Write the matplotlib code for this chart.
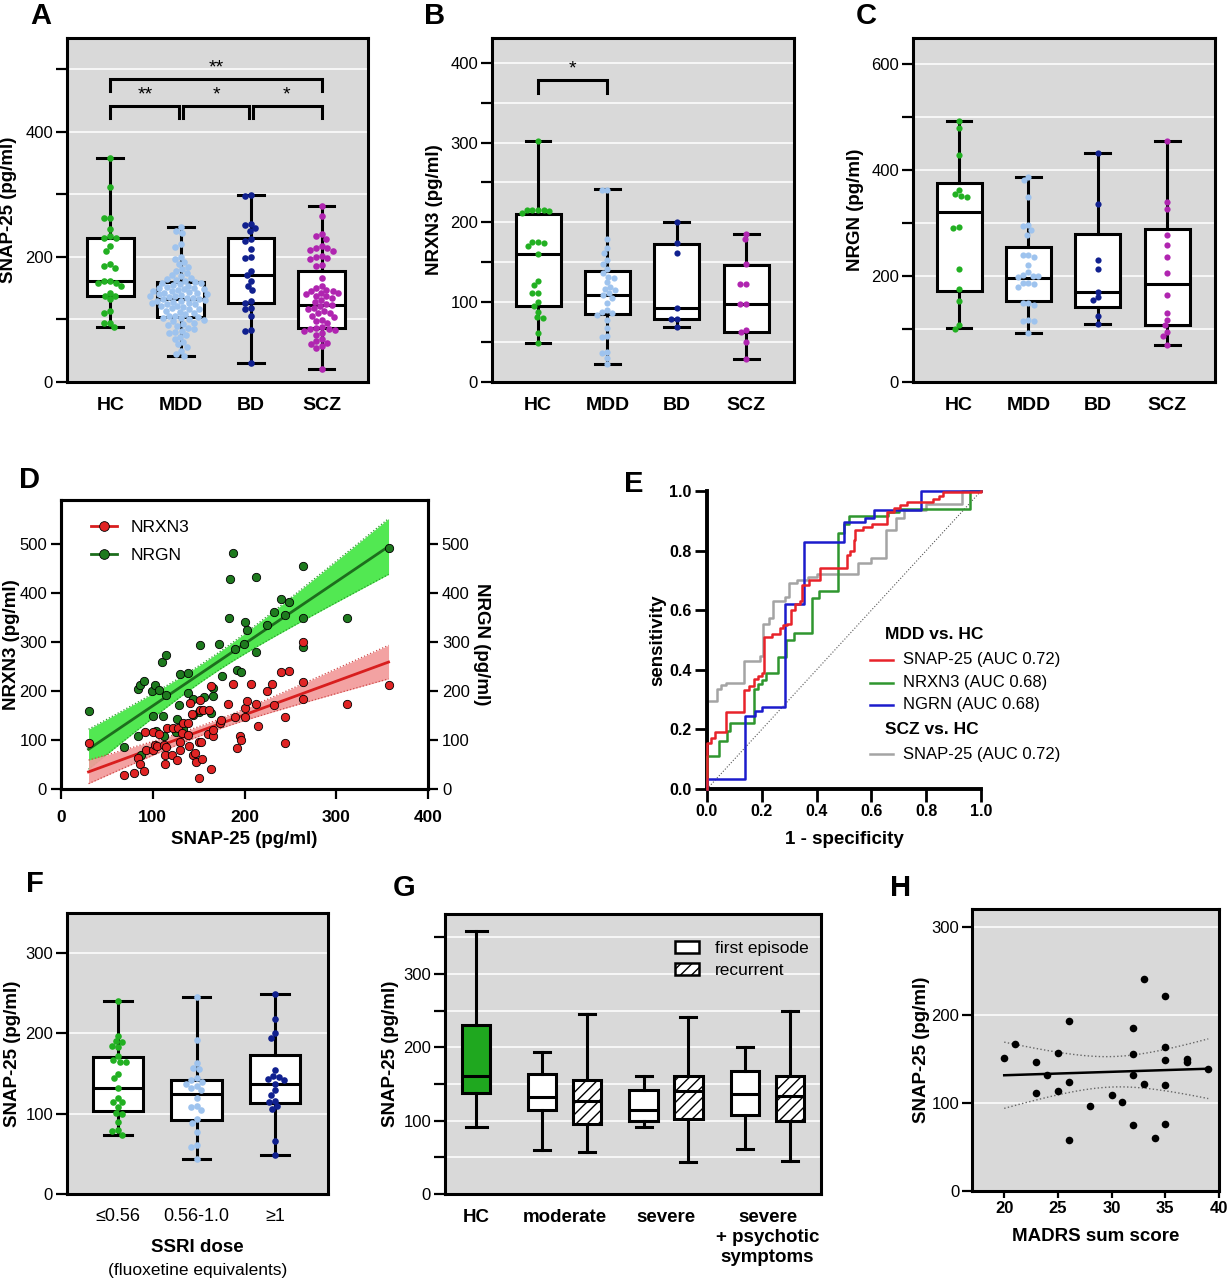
import numpy as np
import matplotlib
matplotlib.use("Agg")
import matplotlib.pyplot as plt
from matplotlib.lines import Line2D
from matplotlib.patches import Patch

plt.rcParams['font.family'] = ['Liberation Sans', 'DejaVu Sans']
plt.rcParams['hatch.linewidth'] = 1.0

# ======================= DATA =======================
groups = ["HC", "MDD", "BD", "SCZ"]
grp_colors = ["#22b022", "#9ec3ee", "#10208f", "#b025b0"]

# --- A: SNAP-25 by group
snap_hc = [358, 311, 263, 263, 244, 233, 231, 231, 217, 210, 188, 185, 182, 161, 161,
           159, 158, 153, 142, 137, 137, 132, 113, 110, 95, 94, 88]
snap_mdd = [248, 242, 238, 220, 216, 200, 196, 192, 188, 184, 180, 177, 174, 171, 169,
            167, 165, 163, 162, 160, 159, 158, 156, 155, 154, 152, 151, 150, 149, 148,
            147, 146, 145, 144, 143, 142, 141, 140, 139, 138, 137, 136, 135, 134, 133,
            132, 131, 130, 129, 128, 127, 126, 125, 124, 122, 121, 120, 118, 117, 116,
            114, 112, 110, 108, 106, 105, 104, 103, 102, 100, 99, 97, 95, 93, 91, 89,
            87, 85, 82, 80, 78, 75, 72, 68, 64, 60, 56, 50, 45, 42]
snap_bd = [299, 297, 253, 251, 246, 242, 228, 226, 212, 200, 198, 178, 171, 162, 154,
           147, 129, 126, 118, 116, 105, 83, 82, 30]
snap_scz = [282, 265, 236, 233, 229, 217, 215, 214, 211, 210, 202, 200, 198, 196, 187,
            185, 166, 153, 150, 147, 146, 145, 143, 142, 140, 138, 137, 135, 131, 128,
            125, 123, 121, 118, 116, 113, 111, 110, 106, 104, 99, 97, 94, 88, 86, 85,
            84, 83, 82, 78, 75, 68, 65, 63, 60, 58, 55, 21]
snap_lo = [88, 42, 30, 21]
snap_q1 = [138, 104, 126, 86]
snap_med = [161, 132, 171, 123]
snap_q3 = [230, 160, 230, 178]
snap_hi = [358, 248, 299, 282]
# significance brackets: (from, to, height, label)
sig_a_from = [1, 1, 2, 3]
sig_a_to = [4, 2, 3, 4]
sig_a_y = [485, 442, 442, 442]
sig_a_lab = ["**", "**", "*", "*"]

# --- B: NRXN3 by group
nrxn_hc = [302, 216, 215, 215, 214, 216, 212, 175, 174, 171, 175, 160, 127, 122, 111,
           111, 100, 95, 88, 81, 80, 61, 49]
nrxn_mdd = [241, 240, 179, 168, 162, 153, 148, 141, 136, 132, 130, 125, 119, 116, 115,
            111, 109, 105, 99, 90, 88, 86, 84, 78, 68, 57, 58, 38, 36, 30, 22]
nrxn_bd = [201, 174, 161, 93, 79, 79, 69]
nrxn_scz = [186, 179, 148, 123, 123, 98, 98, 65, 63, 50, 29]
nrxn_lo = [49, 22.5, 69, 29]
nrxn_q1 = [95.5, 85, 79, 63]
nrxn_med = [160.5, 109.5, 92.5, 97.5]
nrxn_q3 = [211, 139.5, 172.5, 146]
nrxn_hi = [302, 241.5, 201, 185.5]
sig_b_from = [1]
sig_b_to = [2]
sig_b_y = [379]
sig_b_lab = ["*"]

# --- C: NRGN by group
nrgn_hc = [494, 479, 429, 362, 352, 355, 349, 291, 292, 213, 175, 153, 108, 101]
nrgn_mdd = [388, 382, 350, 297, 295, 287, 278, 240, 236, 240, 221, 207, 202, 200, 200,
            199, 188, 187, 186, 180, 150, 150, 146, 118, 116, 116, 92]
nrgn_bd = [433, 336, 230, 213, 171, 160, 155, 124, 110]
nrgn_scz = [456, 341, 326, 278, 259, 236, 206, 164, 131, 118, 108, 94, 86, 69]
nrgn_lo = [102, 92, 110, 69]
nrgn_q1 = [172, 153, 141, 108]
nrgn_med = [321, 197, 171, 185.5]
nrgn_q3 = [376, 255, 280, 289]
nrgn_hi = [494, 387, 433, 456]

# --- D: correlations with SNAP-25
d_nrxn_x = [30, 69, 80, 84, 86, 90, 92, 93, 100, 100, 102, 105, 107, 112, 113, 113, 114,
            115, 121, 122, 126, 128, 130, 130, 132, 133, 138, 138, 140, 141, 143, 144,
            146, 147, 150, 151, 152, 153, 154, 150, 155, 161, 163, 164, 160, 166, 166,
            173, 174, 182, 187, 190, 192, 195, 196, 200, 201, 203, 207, 213, 215, 224,
            230, 232, 240, 244, 244, 248, 264, 264, 264, 312, 357]
d_nrxn_y = [94, 29, 33, 63, 52, 37, 116, 80, 80, 116, 90, 87, 112, 89, 52, 70, 85, 124,
            70, 124, 60, 124, 80, 95, 114, 135, 111, 135, 88, 175, 153, 70, 73, 56, 95,
            181, 162, 95, 62, 22, 161, 162, 40, 210, 112, 109, 121, 135, 141, 174, 215,
            146, 84, 109, 101, 146, 165, 179, 215, 174, 128, 201, 215, 171, 239, 146, 94,
            241, 301, 218, 184, 173, 213]
d_nrgn_x = [30, 69, 84, 86, 90, 84, 87, 99, 102, 107, 100, 111, 110, 114, 114, 104, 112,
            130, 138, 129, 138, 144, 126, 150, 156, 151, 164, 172, 175, 166, 166, 183,
            184, 187, 190, 192, 196, 199, 201, 203, 213, 213, 224, 232, 240, 244, 248,
            264, 264, 264, 312, 357, 125, 133, 144]
d_nrgn_y = [160, 86, 205, 213, 220, 109, 70, 201, 212, 203, 150, 150, 259, 274, 192, 119,
            109, 235, 237, 172, 197, 184, 143, 157, 187, 295, 155, 296, 230, 207, 190,
            350, 429, 482, 286, 242, 238, 296, 341, 325, 279, 433, 335, 361, 388, 356,
            382, 456, 350, 289, 349, 493, 116, 122, 152]

# --- E: ROC curves (1-specificity, sensitivity)
roc_snap_fpr = [0, 0, 0.015, 0.030, 0.070, 0.136, 0.152, 0.170, 0.185, 0.201, 0.207, 0.237,
                0.267, 0.277, 0.292, 0.306, 0.322, 0.340, 0.347, 0.371, 0.411, 0.511, 0.523,
                0.535, 0.541, 0.568, 0.604, 0.656, 0.681, 0.705, 0.729, 0.826, 0.845,
                0.863, 1.0]
roc_snap_tpr = [0, 0.154, 0.171, 0.190, 0.260, 0.333, 0.344, 0.370, 0.380, 0.390, 0.510,
                0.520, 0.540, 0.550, 0.555, 0.600, 0.620, 0.630, 0.685, 0.700, 0.740, 0.785,
                0.800, 0.835, 0.870, 0.880, 0.890, 0.930, 0.944, 0.953, 0.964, 0.972,
                0.983, 0.998, 1.0]
roc_nrxn_fpr = [0, 0, 0.043, 0.073, 0.085, 0.170, 0.185, 0.201, 0.216, 0.258, 0.289, 0.316,
                0.383, 0.410, 0.477, 0.500, 0.520, 0.660, 0.700, 0.960, 1.0]
roc_nrxn_tpr = [0, 0.110, 0.162, 0.193, 0.223, 0.335, 0.353, 0.366, 0.390, 0.444, 0.500,
                0.525, 0.640, 0.665, 0.860, 0.890, 0.915, 0.930, 0.940, 1.0, 1.0]
roc_nrgn_fpr = [0, 0, 0.140, 0.175, 0.200, 0.285, 0.355, 0.500, 0.575, 0.610, 0.780, 1.0]
roc_nrgn_tpr = [0, 0.035, 0.245, 0.262, 0.275, 0.620, 0.830, 0.895, 0.910, 0.935, 1.0, 1.0]
roc_scz_fpr = [0, 0, 0.035, 0.050, 0.070, 0.136, 0.170, 0.195, 0.205, 0.225, 0.240, 0.285,
               0.300, 0.330, 0.370, 0.400, 0.550, 0.600, 0.655, 0.655, 0.690, 0.720, 0.800,
               0.930, 0.930, 1.0]
roc_scz_tpr = [0, 0.295, 0.335, 0.350, 0.355, 0.430, 0.430, 0.445, 0.555, 0.575, 0.630,
               0.645, 0.690, 0.700, 0.710, 0.720, 0.760, 0.775, 0.800, 0.870, 0.910, 0.935,
               0.955, 0.965, 1.0, 1.0]
roc_labels = ["SNAP-25 (AUC 0.72)", "NRXN3 (AUC 0.68)", "NGRN (AUC 0.68)", "SNAP-25 (AUC 0.72)"]

# --- F: SNAP-25 by SSRI dose
ssri_cats = ["\u22640.56", "0.56-1.0", "\u22651"]
ssri_low = [241, 197, 190, 189, 184, 183, 172, 167, 165, 164, 150, 144, 132, 120, 114,
            115, 108, 101, 100, 90, 80, 79, 74]
ssri_mid = [245, 192, 163, 157, 156, 144, 142, 137, 132, 130, 120, 110, 108, 105, 93, 88,
            77, 61, 59, 44, 140, 135]
ssri_high = [249, 218, 200, 194, 154, 147, 146, 142, 143, 137, 129, 123, 116, 114, 109,
             106, 66, 48]
ssri_lo = [74, 44, 48]
ssri_q1 = [103, 92.5, 113]
ssri_med = [131.5, 125, 137]
ssri_q3 = [170.5, 142, 173.5]
ssri_hi = [241, 245, 249]

# --- G: SNAP-25 by severity / episode
sev_cats = ["HC", "moderate", "severe", "severe\n+ psychotic\nsymptoms"]
sev_kind = ["HC", "first", "recurrent", "first", "recurrent", "first", "recurrent"]
sev_lo = [91, 59.5, 57, 91, 43, 62, 45]
sev_q1 = [137.5, 114, 96, 100, 103, 107.5, 100]
sev_med = [161.5, 132, 127.5, 115, 141, 136, 134]
sev_q3 = [230.5, 164, 155, 142, 161.5, 168, 161.5]
sev_hi = [359, 194, 245.5, 161.5, 241.5, 200, 249.5]

# --- H: MADRS vs SNAP-25
madrs = [20, 21, 23, 23, 24, 25, 25, 26, 26, 26, 28, 30, 31, 32, 32, 32, 32, 33, 33, 34,
         35, 35, 35, 35, 35, 37, 37, 39]
madrs_snap = [150.5, 166.5, 146, 111, 132, 157, 113, 193, 124, 58, 96.5, 108.5, 101,
              184.5, 156, 131.5, 74.5, 240.5, 121.5, 60, 221.5, 163, 148.5, 120.5, 75.5,
              149.5, 146, 138.5]

# ======================= FIGURE =======================
W, H = 1229, 1280
fig = plt.figure(figsize=(W / 100, H / 100), dpi=100)
GRAY = "#d9d9d9"


def add_ax(l, t, r, b):
    return fig.add_axes([l / W, 1 - b / H, (r - l) / W, (b - t) / H])


def swarm(ax, vals, diam):
    bb = ax.get_position()
    x0, x1 = ax.get_xlim()
    y0, y1 = ax.get_ylim()
    sx = bb.width * W / (x1 - x0)
    sy = bb.height * H / (y1 - y0)
    ys = np.asarray(vals, float) * sy
    order = np.argsort(-ys, kind="stable")
    placed = []
    offs = np.zeros(len(ys))
    for i in order:
        y = ys[i]
        near = [(px, py) for px, py in placed if abs(py - y) < diam]
        cands = [0.0]
        for px, py in near:
            dx = np.sqrt(diam ** 2 - (py - y) ** 2)
            cands += [px - dx, px + dx]
        cands = sorted(cands, key=lambda c: (round(abs(c), 6), c))
        best = cands[-1]
        for c in cands:
            if all((c - px) ** 2 + (y - py) ** 2 >= diam ** 2 - 1e-6 for px, py in near):
                best = c
                break
        placed.append((best, y))
        offs[i] = best / sx
    return offs


def box_stats(lo, q1, med, q3, hi):
    return [dict(whislo=lo[i], q1=q1[i], med=med[i], q3=q3[i], whishi=hi[i], fliers=[])
            for i in range(len(lo))]


def gray_frame(ax, xlim, ylim, major, minor, grid_minor=True):
    ax.set_facecolor(GRAY)
    ax.set_xlim(*xlim)
    ax.set_ylim(*ylim)
    for s in ax.spines.values():
        s.set_linewidth(2.2)
        s.set_color("black")
    ax.set_yticks(major)
    ax.set_yticks(minor, minor=True)
    ax.tick_params(axis="y", which="both", length=8, width=1.6, direction="out",
                   labelsize=12, pad=2)
    ax.yaxis.grid(True, which="both" if grid_minor else "major", color="white", lw=1.1)
    ax.set_axisbelow(True)


def dot_box(ax, vals_list, lo, q1, med, q3, hi, colors, width, diam=6.6):
    pos = np.arange(1, len(vals_list) + 1)
    ax.bxp(box_stats(lo, q1, med, q3, hi), positions=pos, widths=width,
           capwidths=width * 0.55, patch_artist=True, showfliers=False,
           manage_ticks=False,
           boxprops=dict(facecolor="white", edgecolor="black", linewidth=2.2),
           whiskerprops=dict(color="black", linewidth=2.2),
           capprops=dict(color="black", linewidth=2.2),
           medianprops=dict(color="black", linewidth=2.2))
    for p, vals, c in zip(pos, vals_list, colors):
        offs = swarm(ax, vals, diam * 0.92)
        ax.scatter(p + offs, vals, s=(diam * 0.72) ** 2, color=c, linewidths=0, zorder=3)
    return pos


def cat_labels(ax, pos, labels, size=14, weight="bold", pad=11):
    ax.set_xticks(pos)
    ax.set_xticklabels(labels, fontsize=size, fontweight=weight)
    ax.tick_params(axis="x", length=0, pad=pad)


def brackets(ax, f, t, ys, labs, leg, gap=0.03):
    for a, b, y, lab in zip(f, t, ys, labs):
        a2 = a + (gap if any(tt == a for tt in t if tt != b) and a != 1 else 0)
        b2 = b - (gap if any(ff == b for ff in f) else 0)
        ax.plot([a2, a2, b2, b2], [y - leg, y, y, y - leg], color="black", lw=2.2,
                solid_joinstyle="miter")
        ax.text((a + b) / 2, y + leg * 0.15, lab, ha="center", va="bottom", fontsize=14)


def ylabel_at(ax, text, x, size=13.5, y=0.5):
    ax.set_ylabel(text, fontsize=size, fontweight="bold", ha="center", va="center")
    ax.yaxis.set_label_coords(x, y)


def letter(x, y, s):
    fig.text(x / W, 1 - y / H, s, fontsize=21, fontweight="bold", ha="left", va="top")


# ---------- A ----------
axA = add_ax(67, 38, 368, 382)
gray_frame(axA, (0.386, 4.657), (0, 550), [0, 200, 400], [100, 300, 500])
posA = dot_box(axA, [snap_hc, snap_mdd, snap_bd, snap_scz], snap_lo, snap_q1, snap_med,
               snap_q3, snap_hi, grp_colors, 0.66)
cat_labels(axA, posA, groups)
brackets(axA, sig_a_from, sig_a_to, sig_a_y, sig_a_lab, 20)
ylabel_at(axA, "SNAP-25 (pg/ml)", -0.193)
letter(30, 2, "A")

# ---------- B ----------
axB = add_ax(492, 38, 794, 382)
gray_frame(axB, (0.336, 4.69), (0, 431), [0, 100, 200, 300, 400], [50, 150, 250, 350])
posB = dot_box(axB, [nrxn_hc, nrxn_mdd, nrxn_bd, nrxn_scz], nrxn_lo, nrxn_q1, nrxn_med,
               nrxn_q3, nrxn_hi, grp_colors, 0.65, diam=6.2)
cat_labels(axB, posB, groups)
brackets(axB, sig_b_from, sig_b_to, sig_b_y, sig_b_lab, 17)
ylabel_at(axB, "NRXN3 (pg/ml)", -0.19)
letter(424, 2, "B")

# ---------- C ----------
axC = add_ax(913, 38, 1215, 382)
gray_frame(axC, (0.336, 4.69), (0, 650), [0, 200, 400, 600], [100, 300, 500])
posC = dot_box(axC, [nrgn_hc, nrgn_mdd, nrgn_bd, nrgn_scz], nrgn_lo, nrgn_q1, nrgn_med,
               nrgn_q3, nrgn_hi, grp_colors, 0.65, diam=6.2)
cat_labels(axC, posC, groups)
ylabel_at(axC, "NRGN (pg/ml)", -0.19)
letter(856, 2, "C")


# ---------- D ----------
def linfit_ci(x, y, xg):
    x = np.asarray(x, float)
    y = np.asarray(y, float)
    n = len(x)
    b, a = np.polyfit(x, y, 1)
    yhat = a + b * xg
    s = np.sqrt(np.sum((y - (a + b * x)) ** 2) / (n - 2))
    sxx = np.sum((x - x.mean()) ** 2)
    t = 1.96 + 2.4 / (n - 2)
    hw = t * s * np.sqrt(1 / n + (xg - x.mean()) ** 2 / sxx)
    return yhat, yhat - hw, yhat + hw


axD = add_ax(61, 500, 428, 789)
axD.set_xlim(0, 400)
axD.set_ylim(0, 590)
for s in axD.spines.values():
    s.set_linewidth(2.2)
xgG = np.linspace(min(d_nrgn_x), max(d_nrgn_x), 120)
fG, loG, hiG = linfit_ci(d_nrgn_x, d_nrgn_y, xgG)
xgR = np.linspace(min(d_nrxn_x), max(d_nrxn_x), 120)
fR, loR, hiR = linfit_ci(d_nrxn_x, d_nrxn_y, xgR)
axD.fill_between(xgG, loG, hiG, color="#52e852", lw=0, zorder=1)
axD.plot(xgG, loG, ":", color="#2d9a2d", lw=0.9, zorder=1.2)
axD.plot(xgG, hiG, ":", color="#2d9a2d", lw=0.9, zorder=1.2)
axD.fill_between(xgR, loR, hiR, color="#f29a9a", alpha=0.92, lw=0, zorder=1.3)
axD.plot(xgR, loR, ":", color="#d04a4a", lw=0.9, zorder=1.4)
axD.plot(xgR, hiR, ":", color="#d04a4a", lw=0.9, zorder=1.4)
axD.plot(xgG, fG, color="#1d6e1d", lw=2, zorder=2)
axD.plot(xgR, fR, color="#d81e1e", lw=2, zorder=2)
axD.scatter(d_nrgn_x, d_nrgn_y, s=36, color="#1e7a1e", edgecolors="black",
            linewidths=0.6, zorder=3)
axD.scatter(d_nrxn_x, d_nrxn_y, s=36, color="#e02424", edgecolors="black",
            linewidths=0.6, zorder=4)
axD.set_xticks([0, 100, 200, 300, 400])
axD.set_yticks([0, 100, 200, 300, 400, 500])
axD.tick_params(axis="x", length=7, width=1.6, labelsize=12.5, pad=8)
axD.tick_params(axis="y", length=7, width=1.6, labelsize=12, pad=3)
for lab in axD.get_xticklabels():
    lab.set_fontweight("bold")
axD.set_xlabel("SNAP-25 (pg/ml)", fontsize=13.5, fontweight="bold")
axD.xaxis.set_label_coords(0.5, -0.176)
axD.xaxis.label.set_va("center")
ylabel_at(axD, "NRXN3 (pg/ml)", -0.135)
axD2 = axD.twinx()
axD2.set_ylim(0, 590)
axD2.set_yticks([0, 100, 200, 300, 400, 500])
axD2.tick_params(axis="y", length=7, width=1.6, labelsize=12, pad=3)
axD2.set_ylabel("NRGN (pg/ml)", fontsize=13.5, fontweight="bold", rotation=270)
axD2.yaxis.set_label_coords(1.146, 0.5)
axD2.yaxis.label.set_va("center")
axD2.yaxis.label.set_ha("center")
for s in axD2.spines.values():
    s.set_linewidth(2.2)
hR = Line2D([0], [0], color="#d81e1e", lw=2, marker="o", markersize=7,
            markerfacecolor="#e02424", markeredgecolor="black", markeredgewidth=0.6)
hG = Line2D([0], [0], color="#1d6e1d", lw=2, marker="o", markersize=7,
            markerfacecolor="#1e7a1e", markeredgecolor="black", markeredgewidth=0.6)
axD.legend([hR, hG], ["NRXN3", "NRGN"], loc="upper left", bbox_to_anchor=(0.082, 0.93),
           frameon=False, fontsize=12.5, borderpad=0, borderaxespad=0, handlelength=1.5,
           handletextpad=0.75, labelspacing=0.7)
letter(19, 466, "D")

# ---------- E ----------
axE = add_ax(707, 491, 981, 789)
axE.set_xlim(0, 1)
axE.set_ylim(0, 1)
for side in ["top", "right"]:
    axE.spines[side].set_visible(False)
for side in ["left", "bottom"]:
    axE.spines[side].set_linewidth(2.8)
axE.plot([0, 1], [0, 1], ":", color="#555555", lw=0.8, zorder=1)
roc_colors = ["#e8232a", "#2f962f", "#1c1ccc", "#a4a4a4"]
roc_sets = [(roc_snap_fpr, roc_snap_tpr), (roc_nrxn_fpr, roc_nrxn_tpr),
            (roc_nrgn_fpr, roc_nrgn_tpr), (roc_scz_fpr, roc_scz_tpr)]
for (fx, ty), c, z in zip(roc_sets, roc_colors, [4, 3, 3.5, 2]):
    axE.plot(fx, ty, drawstyle="steps-post", color=c, lw=1.8, zorder=z, clip_on=False)
ticksE = [0.0, 0.2, 0.4, 0.6, 0.8, 1.0]
axE.set_xticks(ticksE)
axE.set_yticks(ticksE)
axE.set_xticklabels([f"{v:.1f}" for v in ticksE], fontsize=11.5, fontweight="bold")
axE.set_yticklabels([f"{v:.1f}" for v in ticksE], fontsize=11.5, fontweight="bold")
axE.tick_params(axis="both", length=9, width=2, pad=2)
axE.set_xlabel("1 - specificity", fontsize=13.5, fontweight="bold")
axE.xaxis.set_label_coords(0.5, -0.171)
axE.xaxis.label.set_va("center")
ylabel_at(axE, "sensitivity", -0.18)
# manual legend
axE.text(0.65, 0.52, "MDD vs. HC", transform=axE.transAxes, fontsize=12.5,
         fontweight="bold", va="center")
axE.text(0.65, 0.198, "SCZ vs. HC", transform=axE.transAxes, fontsize=12.5,
         fontweight="bold", va="center")
for yy, c, lab in zip([0.433, 0.356, 0.282, 0.117], roc_colors, roc_labels):
    axE.add_line(Line2D([0.595, 0.679], [yy, yy], transform=axE.transAxes, color=c,
                        lw=1.8, clip_on=False))
    axE.text(0.715, yy, lab, transform=axE.transAxes, fontsize=12, va="center")
letter(624, 470, "E")

# ---------- F ----------
axF = add_ax(67, 913, 328, 1194)
gray_frame(axF, (0.35, 3.675), (0, 350), [0, 100, 200, 300], [], grid_minor=False)
posF = dot_box(axF, [ssri_low, ssri_mid, ssri_high], ssri_lo, ssri_q1, ssri_med, ssri_q3,
               ssri_hi, grp_colors[:3], 0.645, diam=6.6)
cat_labels(axF, posF, ssri_cats, size=13, weight="normal", pad=10)
ylabel_at(axF, "SNAP-25 (pg/ml)", -0.209)
axF.text(0.5, -0.192, "SSRI dose", transform=axF.transAxes, ha="center", va="center",
         fontsize=13.5, fontweight="bold")
axF.text(0.5, -0.274, "(fluoxetine equivalents)", transform=axF.transAxes, ha="center",
         va="center", fontsize=12.5)
letter(26, 870, "F")

# ---------- G ----------
axG = add_ax(445, 914, 821, 1194)
gray_frame(axG, (-0.177, 3.527), (0, 382), [0, 100, 200, 300], [50, 150, 250, 350])
g_pos = [0.13, 0.78, 1.22, 1.78, 2.22, 2.78, 3.22]
g_w = [0.27, 0.28, 0.28, 0.28, 0.28, 0.28, 0.28]
bpG = axG.bxp(box_stats(sev_lo, sev_q1, sev_med, sev_q3, sev_hi), positions=g_pos,
              widths=g_w, capwidths=[0.21, 0.16, 0.16, 0.16, 0.16, 0.16, 0.16],
              patch_artist=True, showfliers=False, manage_ticks=False,
              boxprops=dict(facecolor="white", edgecolor="black", linewidth=2.2),
              whiskerprops=dict(color="black", linewidth=2.2),
              capprops=dict(color="black", linewidth=2.2),
              medianprops=dict(color="black", linewidth=2.2))
for patch, kind in zip(bpG["boxes"], sev_kind):
    if kind == "HC":
        patch.set_facecolor("#1fa81f")
    elif kind == "recurrent":
        patch.set_hatch("///")
cat_labels(axG, [g_pos[0], 1, 2, 3], sev_cats, size=13.5, pad=11)
for lab in axG.get_xticklabels():
    lab.set_linespacing(1.22)
ylabel_at(axG, "SNAP-25 (pg/ml)", -0.146)
axG.legend([Patch(facecolor="white", edgecolor="black", lw=1.8),
            Patch(facecolor="white", edgecolor="black", lw=1.8, hatch="///")],
           ["first episode", "recurrent"], loc="upper left", bbox_to_anchor=(0.612, 0.905),
           frameon=False, fontsize=12.5, borderpad=0, borderaxespad=0, handlelength=1.4,
           handleheight=0.75, handletextpad=0.9, labelspacing=0.38)
letter(393, 874, "G")

# ---------- H ----------
axH = add_ax(972, 909, 1219, 1191)
gray_frame(axH, (17, 40), (0, 320), [0, 100, 200, 300], [], grid_minor=False)
xgH = np.linspace(min(madrs), max(madrs), 100)
fH, loH, hiH = linfit_ci(madrs, madrs_snap, xgH)
axH.plot(xgH, fH, color="black", lw=1.8, zorder=3)
axH.plot(xgH, loH, ":", color="#666666", lw=1.0, zorder=2)
axH.plot(xgH, hiH, ":", color="#666666", lw=1.0, zorder=2)
axH.scatter(madrs, madrs_snap, s=30, color="black", linewidths=0, zorder=4)
axH.set_xticks([20, 25, 30, 35, 40])
axH.set_xticklabels(["20", "25", "30", "35", "40"], fontsize=12, fontweight="bold")
axH.tick_params(axis="x", length=5, width=1.6, pad=2)
axH.tick_params(axis="y", length=7)
axH.set_xlabel("MADRS sum score", fontsize=13.5, fontweight="bold")
axH.xaxis.set_label_coords(0.5, -0.16)
axH.xaxis.label.set_va("center")
ylabel_at(axH, "SNAP-25 (pg/ml)", -0.204)
letter(890, 874, "H")

fig.savefig("out.png", dpi=100)
